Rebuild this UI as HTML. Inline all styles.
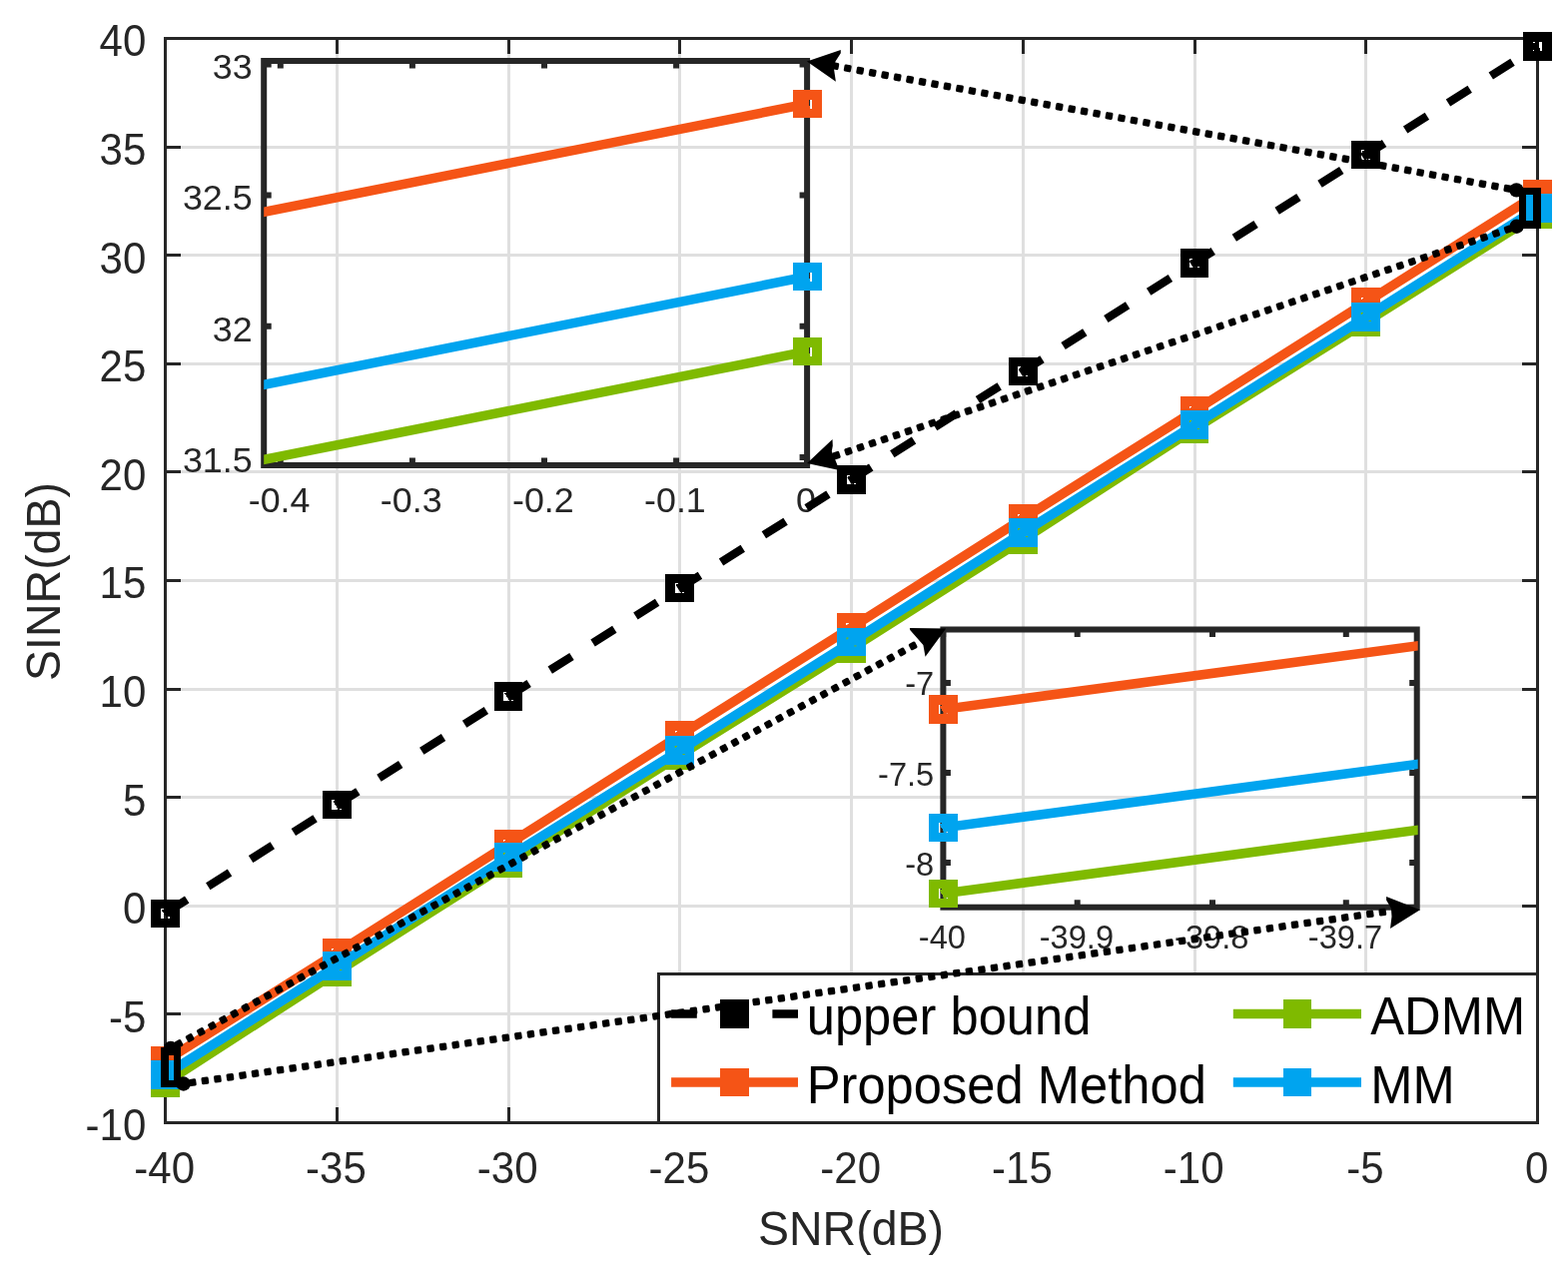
<!DOCTYPE html>
<html><head><meta charset="utf-8"><title>SINR vs SNR</title>
<style>html,body{margin:0;padding:0;background:#fff;overflow:hidden}svg{display:block}text{font-family:"Liberation Sans", Arial, Helvetica, sans-serif}</style>
</head><body>
<svg width="1570" height="1273" viewBox="0 0 1570 1273">
<rect width="1570" height="1273" fill="#fff"/>
<path d="M337.25 38.5V1124.5M509 38.5V1124.5M680.75 38.5V1124.5M852.5 38.5V1124.5M1024.25 38.5V1124.5M1196 38.5V1124.5M1367.75 38.5V1124.5M165.5 1015.9H1539.5M165.5 907.3H1539.5M165.5 798.7H1539.5M165.5 690.1H1539.5M165.5 581.5H1539.5M165.5 472.9H1539.5M165.5 364.3H1539.5M165.5 255.7H1539.5M165.5 147.1H1539.5" stroke="#dfdfdf" stroke-width="3" fill="none" shape-rendering="crispEdges"/>
<path d="M337.25 1124.5v-15.5M337.25 38.5v15.5M509 1124.5v-15.5M509 38.5v15.5M680.75 1124.5v-15.5M680.75 38.5v15.5M852.5 1124.5v-15.5M852.5 38.5v15.5M1024.25 1124.5v-15.5M1024.25 38.5v15.5M1196 1124.5v-15.5M1196 38.5v15.5M1367.75 1124.5v-15.5M1367.75 38.5v15.5M165.5 1015.9h15.5M1539.5 1015.9h-15.5M165.5 907.3h15.5M1539.5 907.3h-15.5M165.5 798.7h15.5M1539.5 798.7h-15.5M165.5 690.1h15.5M1539.5 690.1h-15.5M165.5 581.5h15.5M1539.5 581.5h-15.5M165.5 472.9h15.5M1539.5 472.9h-15.5M165.5 364.3h15.5M1539.5 364.3h-15.5M165.5 255.7h15.5M1539.5 255.7h-15.5M165.5 147.1h15.5M1539.5 147.1h-15.5" stroke="#262626" stroke-width="3" fill="none" shape-rendering="crispEdges"/>
<rect x="165.5" y="38.5" width="1374.0" height="1086.0" stroke="#262626" stroke-width="3" fill="none" shape-rendering="crispEdges"/>
<g font-size="42" fill="#262626"><text transform="translate(164.7 1185.3) scale(1 1.05)" text-anchor="middle">-40</text><text transform="translate(336.45 1185.3) scale(1 1.05)" text-anchor="middle">-35</text><text transform="translate(508.2 1185.3) scale(1 1.05)" text-anchor="middle">-30</text><text transform="translate(679.95 1185.3) scale(1 1.05)" text-anchor="middle">-25</text><text transform="translate(851.7 1185.3) scale(1 1.05)" text-anchor="middle">-20</text><text transform="translate(1023.45 1185.3) scale(1 1.05)" text-anchor="middle">-15</text><text transform="translate(1195.2 1185.3) scale(1 1.05)" text-anchor="middle">-10</text><text transform="translate(1366.95 1185.3) scale(1 1.05)" text-anchor="middle">-5</text><text transform="translate(1538.7 1185.3) scale(1 1.05)" text-anchor="middle">0</text><text transform="translate(146.3 1142.3) scale(1 1.05)" text-anchor="end">-10</text><text transform="translate(146.3 1033.7) scale(1 1.05)" text-anchor="end">-5</text><text transform="translate(146.3 925.1) scale(1 1.05)" text-anchor="end">0</text><text transform="translate(146.3 816.5) scale(1 1.05)" text-anchor="end">5</text><text transform="translate(146.3 707.9) scale(1 1.05)" text-anchor="end">10</text><text transform="translate(146.3 599.3) scale(1 1.05)" text-anchor="end">15</text><text transform="translate(146.3 490.7) scale(1 1.05)" text-anchor="end">20</text><text transform="translate(146.3 382.1) scale(1 1.05)" text-anchor="end">25</text><text transform="translate(146.3 273.5) scale(1 1.05)" text-anchor="end">30</text><text transform="translate(146.3 164.9) scale(1 1.05)" text-anchor="end">35</text><text transform="translate(146.3 56.3) scale(1 1.05)" text-anchor="end">40</text></g>
<text transform="translate(852 1246.8) scale(1 1.035)" font-size="46.5" fill="#262626" text-anchor="middle">SNR(dB)</text>
<text transform="translate(59.9 582.5) rotate(-90) scale(1 1.035)" font-size="46.5" fill="#262626" text-anchor="middle">SINR(dB)</text>
<g font-size="35.8" fill="#262626"><text transform="translate(279.6 512.6) scale(1 1.0)" text-anchor="middle">-0.4</text><text transform="translate(411.7 512.6) scale(1 1.0)" text-anchor="middle">-0.3</text><text transform="translate(543.8 512.6) scale(1 1.0)" text-anchor="middle">-0.2</text><text transform="translate(675.9 512.6) scale(1 1.0)" text-anchor="middle">-0.1</text><text transform="translate(806.9 512.6) scale(1 1.0)" text-anchor="middle">0</text><text transform="translate(252.6 79.2) scale(1 1.0)" text-anchor="end">33</text><text transform="translate(252.6 210.4) scale(1 1.0)" text-anchor="end">32.5</text><text transform="translate(252.6 341.6) scale(1 1.0)" text-anchor="end">32</text><text transform="translate(252.6 472.8) scale(1 1.0)" text-anchor="end">31.5</text></g>
<path d="M280.8 466v-7.5M280.8 61v7.5M412.9 466v-7.5M412.9 61v7.5M545 466v-7.5M545 61v7.5M677.1 466v-7.5M677.1 61v7.5M808.1 466v-7.5M808.1 61v7.5M264.2 64.4h7.5M808.1 64.4h-7.5M264.2 195.6h7.5M808.1 195.6h-7.5M264.2 326.8h7.5M808.1 326.8h-7.5M264.2 458h7.5M808.1 458h-7.5" stroke="#262626" stroke-width="6" fill="none"/>
<rect x="264.2" y="61" width="543.9" height="405" stroke="#262626" stroke-width="6" fill="none"/>
<g font-size="32.6" fill="#262626"><text transform="translate(943.4 950.2) scale(1 1.04)" text-anchor="middle">-40</text><text transform="translate(1077.9 950.2) scale(1 1.04)" text-anchor="middle">-39.9</text><text transform="translate(1213.2 950.2) scale(1 1.04)" text-anchor="middle">-39.8</text><text transform="translate(1347 950.2) scale(1 1.04)" text-anchor="middle">-39.7</text><text transform="translate(935.2 696.4) scale(1 1.04)" text-anchor="end">-7</text><text transform="translate(935.2 786.5) scale(1 1.04)" text-anchor="end">-7.5</text><text transform="translate(935.2 876.6) scale(1 1.04)" text-anchor="end">-8</text></g>
<path d="M944.2 908.7v-7.5M944.2 630.5v7.5M1078.7 908.7v-7.5M1078.7 630.5v7.5M1214 908.7v-7.5M1214 630.5v7.5M1347.8 908.7v-7.5M1347.8 630.5v7.5M944.4 683.9h7.5M1418.7 683.9h-7.5M944.4 774h7.5M1418.7 774h-7.5M944.4 864.1h7.5M1418.7 864.1h-7.5" stroke="#262626" stroke-width="6" fill="none"/>
<rect x="944.4" y="630.5" width="474.3" height="278.2" stroke="#262626" stroke-width="6" fill="none"/>
<polyline points="165.5,914.8 337.25,806 509,697.5 680.75,589 852.5,480.5 1024.25,372 1196,263.3 1367.75,155 1539.5,46.4" stroke="#000" stroke-width="8.3" fill="none" stroke-dasharray="25.7 24.95"/>
<path d="M151.2 900.5h28.6v28.6h-28.6zM160.7 910L163.7 910L163.7 911L161.9 911L161.9 912L166.5 918.6L166.5 919.6L160.7 919.6zM168.1 918.4L170.1 918.4L170.1 919.6L168.1 919.6z" fill="#000" fill-rule="evenodd" shape-rendering="crispEdges"/><path d="M322.95 791.7h28.6v28.6h-28.6zM332.45 801.2L335.45 801.2L335.45 802.2L333.65 802.2L333.65 803.2L338.25 809.8L338.25 810.8L332.45 810.8zM339.85 809.6L341.85 809.6L341.85 810.8L339.85 810.8z" fill="#000" fill-rule="evenodd" shape-rendering="crispEdges"/><path d="M494.7 683.2h28.6v28.6h-28.6zM504.2 692.7L507.2 692.7L507.2 693.7L505.4 693.7L505.4 694.7L510 701.3L510 702.3L504.2 702.3zM511.6 701.1L513.6 701.1L513.6 702.3L511.6 702.3z" fill="#000" fill-rule="evenodd" shape-rendering="crispEdges"/><path d="M666.45 574.7h28.6v28.6h-28.6zM675.95 584.2L678.95 584.2L678.95 585.2L677.15 585.2L677.15 586.2L681.75 592.8L681.75 593.8L675.95 593.8zM683.35 592.6L685.35 592.6L685.35 593.8L683.35 593.8z" fill="#000" fill-rule="evenodd" shape-rendering="crispEdges"/><path d="M838.2 466.2h28.6v28.6h-28.6zM847.7 475.7L850.7 475.7L850.7 476.7L848.9 476.7L848.9 477.7L853.5 484.3L853.5 485.3L847.7 485.3zM855.1 484.1L857.1 484.1L857.1 485.3L855.1 485.3z" fill="#000" fill-rule="evenodd" shape-rendering="crispEdges"/><path d="M1009.95 357.7h28.6v28.6h-28.6zM1019.45 367.2L1022.45 367.2L1022.45 368.2L1020.65 368.2L1020.65 369.2L1025.25 375.8L1025.25 376.8L1019.45 376.8zM1026.85 375.6L1028.85 375.6L1028.85 376.8L1026.85 376.8z" fill="#000" fill-rule="evenodd" shape-rendering="crispEdges"/><path d="M1181.7 249h28.6v28.6h-28.6zM1191.2 258.5L1194.2 258.5L1194.2 259.5L1192.4 259.5L1192.4 260.5L1197 267.1L1197 268.1L1191.2 268.1zM1198.6 266.9L1200.6 266.9L1200.6 268.1L1198.6 268.1z" fill="#000" fill-rule="evenodd" shape-rendering="crispEdges"/><path d="M1353.45 140.7h28.6v28.6h-28.6zM1362.95 150.2L1365.95 150.2L1365.95 151.2L1364.15 151.2L1364.15 152.2L1368.75 158.8L1368.75 159.8L1362.95 159.8zM1370.35 158.6L1372.35 158.6L1372.35 159.8L1370.35 159.8z" fill="#000" fill-rule="evenodd" shape-rendering="crispEdges"/><path d="M1525.2 32.1h28.6v28.6h-28.6zM1534.8 41.9L1537.1 41.9L1537.1 43L1534.8 43zM1534.8 49.8L1536.2 49.8L1536.2 51.1L1534.8 51.1zM1541.1 41.9L1544 41.9L1544 51L1541.8 51L1541.8 48L1541.1 48z" fill="#000" fill-rule="evenodd" shape-rendering="crispEdges"/>
<polyline points="165.5,1084.4 337.25,973.5 509,864.4 680.75,756.5 852.5,649.5 1024.25,540.4 1196,429.5 1367.75,322.4 1539.5,214.4" stroke="#7fba00" stroke-width="9.5" fill="none" stroke-linejoin="miter"/>
<path d="M151.2 1070.1h28.6v28.6h-28.6z" fill="#7fba00" fill-rule="evenodd" shape-rendering="crispEdges"/><path d="M322.95 959.2h28.6v28.6h-28.6z" fill="#7fba00" fill-rule="evenodd" shape-rendering="crispEdges"/><path d="M494.7 850.1h28.6v28.6h-28.6z" fill="#7fba00" fill-rule="evenodd" shape-rendering="crispEdges"/><path d="M666.45 742.2h28.6v28.6h-28.6z" fill="#7fba00" fill-rule="evenodd" shape-rendering="crispEdges"/><path d="M838.2 635.2h28.6v28.6h-28.6z" fill="#7fba00" fill-rule="evenodd" shape-rendering="crispEdges"/><path d="M1009.95 526.1h28.6v28.6h-28.6z" fill="#7fba00" fill-rule="evenodd" shape-rendering="crispEdges"/><path d="M1181.7 415.2h28.6v28.6h-28.6z" fill="#7fba00" fill-rule="evenodd" shape-rendering="crispEdges"/><path d="M1353.45 308.1h28.6v28.6h-28.6z" fill="#7fba00" fill-rule="evenodd" shape-rendering="crispEdges"/><path d="M1525.2 200.1h28.6v28.6h-28.6z" fill="#7fba00" fill-rule="evenodd" shape-rendering="crispEdges"/>
<polyline points="165.5,1062.5 337.25,954.5 509,845.6 680.75,736.5 852.5,628.5 1024.25,519.5 1196,411.6 1367.75,302.7 1539.5,194.4" stroke="#f55416" stroke-width="9.5" fill="none" stroke-linejoin="miter"/>
<path d="M151.2 1048.2h28.6v28.6h-28.6z" fill="#f55416" fill-rule="evenodd" shape-rendering="crispEdges"/><path d="M322.95 940.2h28.6v28.6h-28.6zM332.05 949.8L334.45 949.8L334.45 950.9L333.25 950.9L333.25 952.1L332.05 952.1z" fill="#f55416" fill-rule="evenodd" shape-rendering="crispEdges"/><path d="M494.7 831.3h28.6v28.6h-28.6zM503.8 840.9L506.2 840.9L506.2 842L505 842L505 843.2L503.8 843.2z" fill="#f55416" fill-rule="evenodd" shape-rendering="crispEdges"/><path d="M666.45 722.2h28.6v28.6h-28.6zM675.55 731.8L677.95 731.8L677.95 732.9L676.75 732.9L676.75 734.1L675.55 734.1z" fill="#f55416" fill-rule="evenodd" shape-rendering="crispEdges"/><path d="M838.2 614.2h28.6v28.6h-28.6zM847.3 623.8L849.7 623.8L849.7 624.9L848.5 624.9L848.5 626.1L847.3 626.1z" fill="#f55416" fill-rule="evenodd" shape-rendering="crispEdges"/><path d="M1009.95 505.2h28.6v28.6h-28.6zM1019.05 514.8L1021.45 514.8L1021.45 515.9L1020.25 515.9L1020.25 517.1L1019.05 517.1z" fill="#f55416" fill-rule="evenodd" shape-rendering="crispEdges"/><path d="M1181.7 397.3h28.6v28.6h-28.6zM1190.8 406.9L1193.2 406.9L1193.2 408L1192 408L1192 409.2L1190.8 409.2z" fill="#f55416" fill-rule="evenodd" shape-rendering="crispEdges"/><path d="M1353.45 288.4h28.6v28.6h-28.6zM1362.55 298L1364.95 298L1364.95 299.1L1363.75 299.1L1363.75 300.3L1362.55 300.3z" fill="#f55416" fill-rule="evenodd" shape-rendering="crispEdges"/><path d="M1525.2 180.1h28.6v28.6h-28.6z" fill="#f55416" fill-rule="evenodd" shape-rendering="crispEdges"/>
<polyline points="165.5,1076.5 337.25,967.5 509,858.5 680.75,751.5 852.5,643 1024.25,533.5 1196,425.5 1367.75,317.4 1539.5,208.7" stroke="#00a4ef" stroke-width="9.5" fill="none" stroke-linejoin="miter"/>
<path d="M151.2 1062.2h28.6v28.6h-28.6z" fill="#00a4ef" fill-rule="evenodd" shape-rendering="crispEdges"/><path d="M322.95 953.2h28.6v28.6h-28.6z" fill="#00a4ef" fill-rule="evenodd" shape-rendering="crispEdges"/><path d="M494.7 844.2h28.6v28.6h-28.6z" fill="#00a4ef" fill-rule="evenodd" shape-rendering="crispEdges"/><path d="M666.45 737.2h28.6v28.6h-28.6z" fill="#00a4ef" fill-rule="evenodd" shape-rendering="crispEdges"/><path d="M838.2 628.7h28.6v28.6h-28.6z" fill="#00a4ef" fill-rule="evenodd" shape-rendering="crispEdges"/><path d="M1009.95 519.2h28.6v28.6h-28.6z" fill="#00a4ef" fill-rule="evenodd" shape-rendering="crispEdges"/><path d="M1181.7 411.2h28.6v28.6h-28.6z" fill="#00a4ef" fill-rule="evenodd" shape-rendering="crispEdges"/><path d="M1353.45 303.1h28.6v28.6h-28.6z" fill="#00a4ef" fill-rule="evenodd" shape-rendering="crispEdges"/><path d="M1525.2 194.4h28.6v28.6h-28.6z" fill="#00a4ef" fill-rule="evenodd" shape-rendering="crispEdges"/>
<path d="M332.25 963.1h2v1h-1v1h-1z" fill="#7fba00"/><rect x="340.05" y="971" width="2.2" height="0.9" fill="#7fba00"/><path d="M504 854.1h2v1h-1v1h-1z" fill="#7fba00"/><rect x="511.8" y="862" width="2.2" height="0.9" fill="#7fba00"/><path d="M675.75 747.1h2v1h-1v1h-1z" fill="#7fba00"/><rect x="683.55" y="755" width="2.2" height="0.9" fill="#7fba00"/><path d="M847.5 638.6h2v1h-1v1h-1z" fill="#7fba00"/><rect x="855.3" y="646.5" width="2.2" height="0.9" fill="#7fba00"/><path d="M1019.25 529.1h2v1h-1v1h-1z" fill="#7fba00"/><rect x="1027.05" y="537" width="2.2" height="0.9" fill="#7fba00"/><path d="M1191 421.1h2v1h-1v1h-1z" fill="#7fba00"/><rect x="1198.8" y="429" width="2.2" height="0.9" fill="#7fba00"/><path d="M1362.75 313h2v1h-1v1h-1z" fill="#7fba00"/><rect x="1370.55" y="320.9" width="2.2" height="0.9" fill="#7fba00"/>
<clipPath id="c264"><rect x="264.2" y="41" width="544.9" height="445"/></clipPath>
<path d="M259.2 213.31L813.1 103.02" stroke="#f55416" stroke-width="9.5" clip-path="url(#c264)"/>
<path d="M259.2 386.31L813.1 276.02" stroke="#00a4ef" stroke-width="9.5" clip-path="url(#c264)"/>
<path d="M259.2 461.31L813.1 351.02" stroke="#7fba00" stroke-width="9.5" clip-path="url(#c264)"/>
<path d="M794.1 89.7h28.6v28.6h-28.6zM803.7 99.5L806 99.5L806 100.6L803.7 100.6zM803.7 107.4L805.1 107.4L805.1 108.7L803.7 108.7zM810 99.5L812.9 99.5L812.9 108.6L810.7 108.6L810.7 105.6L810 105.6z" fill="#f55416" fill-rule="evenodd" shape-rendering="crispEdges"/><path d="M794.1 337.7h28.6v28.6h-28.6zM803.7 347.5L806 347.5L806 348.6L803.7 348.6zM803.7 355.4L805.1 355.4L805.1 356.7L803.7 356.7zM810 347.5L812.9 347.5L812.9 356.6L810.7 356.6L810.7 353.6L810 353.6z" fill="#7fba00" fill-rule="evenodd" shape-rendering="crispEdges"/><path d="M794.1 262.7h28.6v28.6h-28.6zM803.7 272.5L806 272.5L806 273.6L803.7 273.6zM803.7 280.4L805.1 280.4L805.1 281.7L803.7 281.7zM810 272.5L812.9 272.5L812.9 281.6L810.7 281.6L810.7 278.6L810 278.6z" fill="#00a4ef" fill-rule="evenodd" shape-rendering="crispEdges"/>
<clipPath id="c944"><rect x="944.4" y="610.5" width="475.3" height="318.2"/></clipPath>
<path d="M939.4 711.17L1423.7 646.32" stroke="#f55416" stroke-width="9.5" clip-path="url(#c944)"/>
<path d="M939.4 829.67L1423.7 764.82" stroke="#00a4ef" stroke-width="9.5" clip-path="url(#c944)"/>
<path d="M939.4 895.67L1423.7 830.82" stroke="#7fba00" stroke-width="9.5" clip-path="url(#c944)"/>
<path d="M930.1 696.2h28.6v28.6h-28.6zM939.6 705.7L942.6 705.7L942.6 706.7L940.8 706.7L940.8 707.7L945.4 714.3L945.4 715.3L939.6 715.3zM947 714.1L949 714.1L949 715.3L947 715.3z" fill="#f55416" fill-rule="evenodd" shape-rendering="crispEdges"/><path d="M930.1 880.7h28.6v28.6h-28.6zM939.6 890.2L942.6 890.2L942.6 891.2L940.8 891.2L940.8 892.2L945.4 898.8L945.4 899.8L939.6 899.8zM947 898.6L949 898.6L949 899.8L947 899.8z" fill="#7fba00" fill-rule="evenodd" shape-rendering="crispEdges"/><path d="M930.1 814.7h28.6v28.6h-28.6zM939.6 824.2L942.6 824.2L942.6 825.2L940.8 825.2L940.8 826.2L945.4 832.8L945.4 833.8L939.6 833.8zM947 832.6L949 832.6L949 833.8L947 833.8z" fill="#00a4ef" fill-rule="evenodd" shape-rendering="crispEdges"/>
<rect x="659.5" y="975.5" width="880.0" height="149.0" fill="#fff" stroke="#262626" stroke-width="3" shape-rendering="crispEdges"/>
<path d="M672.1 1015.5H799" stroke="#000" stroke-width="8.3" stroke-dasharray="25.7 24.95"/>
<path d="M721.2 1001.2h28.6v28.6h-28.6z" fill="#000" fill-rule="evenodd" shape-rendering="crispEdges"/>
<path d="M672.1 1084H799" stroke="#f55416" stroke-width="9.5"/><path d="M721.2 1069.7h28.6v28.6h-28.6z" fill="#f55416" fill-rule="evenodd" shape-rendering="crispEdges"/>
<path d="M1234.8 1015.5H1363" stroke="#7fba00" stroke-width="9.5"/><path d="M1284.7 1001.2h28.6v28.6h-28.6z" fill="#7fba00" fill-rule="evenodd" shape-rendering="crispEdges"/>
<path d="M1234.8 1084H1363" stroke="#00a4ef" stroke-width="9.5"/><path d="M1284.7 1069.7h28.6v28.6h-28.6z" fill="#00a4ef" fill-rule="evenodd" shape-rendering="crispEdges"/>
<g font-size="50.7" fill="#000"><text transform="translate(807.7 1035.8) scale(1 1.055)">upper bound</text><text transform="translate(807.7 1104.6) scale(1 1.055)">Proposed Method</text><text transform="translate(1372.3 1035.8) scale(1 1.055)">ADMM</text><text transform="translate(1372.3 1104.6) scale(1 1.055)">MM</text></g>
<rect x="1524.6" y="191.5" width="14.6" height="33.6" fill="none" stroke="#000" stroke-width="7.4" shape-rendering="crispEdges"/>
<rect x="165" y="1053" width="12.75" height="32.4" fill="none" stroke="#000" stroke-width="7.4" shape-rendering="crispEdges"/>
<g fill="#000"><rect x="-3.65" y="-3.65" width="7.3" height="7.3" rx="1.6" transform="translate(1521.84 191.02) rotate(-169.68)"/><rect x="-3.65" y="-3.65" width="7.3" height="7.3" rx="1.6" transform="translate(1509.38 188.75) rotate(-169.68)"/><rect x="-3.65" y="-3.65" width="7.3" height="7.3" rx="1.6" transform="translate(1496.91 186.47) rotate(-169.68)"/><rect x="-3.65" y="-3.65" width="7.3" height="7.3" rx="1.6" transform="translate(1484.45 184.2) rotate(-169.68)"/><rect x="-3.65" y="-3.65" width="7.3" height="7.3" rx="1.6" transform="translate(1471.98 181.93) rotate(-169.68)"/><rect x="-3.65" y="-3.65" width="7.3" height="7.3" rx="1.6" transform="translate(1459.52 179.66) rotate(-169.68)"/><rect x="-3.65" y="-3.65" width="7.3" height="7.3" rx="1.6" transform="translate(1447.05 177.39) rotate(-169.68)"/><rect x="-3.65" y="-3.65" width="7.3" height="7.3" rx="1.6" transform="translate(1434.59 175.12) rotate(-169.68)"/><rect x="-3.65" y="-3.65" width="7.3" height="7.3" rx="1.6" transform="translate(1422.12 172.85) rotate(-169.68)"/><rect x="-3.65" y="-3.65" width="7.3" height="7.3" rx="1.6" transform="translate(1409.66 170.58) rotate(-169.68)"/><rect x="-3.65" y="-3.65" width="7.3" height="7.3" rx="1.6" transform="translate(1397.19 168.31) rotate(-169.68)"/><rect x="-3.65" y="-3.65" width="7.3" height="7.3" rx="1.6" transform="translate(1384.73 166.04) rotate(-169.68)"/><rect x="-3.65" y="-3.65" width="7.3" height="7.3" rx="1.6" transform="translate(1372.27 163.77) rotate(-169.68)"/><rect x="-3.65" y="-3.65" width="7.3" height="7.3" rx="1.6" transform="translate(1359.8 161.5) rotate(-169.68)"/><rect x="-3.65" y="-3.65" width="7.3" height="7.3" rx="1.6" transform="translate(1347.34 159.23) rotate(-169.68)"/><rect x="-3.65" y="-3.65" width="7.3" height="7.3" rx="1.6" transform="translate(1334.87 156.96) rotate(-169.68)"/><rect x="-3.65" y="-3.65" width="7.3" height="7.3" rx="1.6" transform="translate(1322.41 154.69) rotate(-169.68)"/><rect x="-3.65" y="-3.65" width="7.3" height="7.3" rx="1.6" transform="translate(1309.94 152.42) rotate(-169.68)"/><rect x="-3.65" y="-3.65" width="7.3" height="7.3" rx="1.6" transform="translate(1297.48 150.15) rotate(-169.68)"/><rect x="-3.65" y="-3.65" width="7.3" height="7.3" rx="1.6" transform="translate(1285.01 147.87) rotate(-169.68)"/><rect x="-3.65" y="-3.65" width="7.3" height="7.3" rx="1.6" transform="translate(1272.55 145.6) rotate(-169.68)"/><rect x="-3.65" y="-3.65" width="7.3" height="7.3" rx="1.6" transform="translate(1260.08 143.33) rotate(-169.68)"/><rect x="-3.65" y="-3.65" width="7.3" height="7.3" rx="1.6" transform="translate(1247.62 141.06) rotate(-169.68)"/><rect x="-3.65" y="-3.65" width="7.3" height="7.3" rx="1.6" transform="translate(1235.15 138.79) rotate(-169.68)"/><rect x="-3.65" y="-3.65" width="7.3" height="7.3" rx="1.6" transform="translate(1222.69 136.52) rotate(-169.68)"/><rect x="-3.65" y="-3.65" width="7.3" height="7.3" rx="1.6" transform="translate(1210.22 134.25) rotate(-169.68)"/><rect x="-3.65" y="-3.65" width="7.3" height="7.3" rx="1.6" transform="translate(1197.76 131.98) rotate(-169.68)"/><rect x="-3.65" y="-3.65" width="7.3" height="7.3" rx="1.6" transform="translate(1185.29 129.71) rotate(-169.68)"/><rect x="-3.65" y="-3.65" width="7.3" height="7.3" rx="1.6" transform="translate(1172.83 127.44) rotate(-169.68)"/><rect x="-3.65" y="-3.65" width="7.3" height="7.3" rx="1.6" transform="translate(1160.36 125.17) rotate(-169.68)"/><rect x="-3.65" y="-3.65" width="7.3" height="7.3" rx="1.6" transform="translate(1147.9 122.9) rotate(-169.68)"/><rect x="-3.65" y="-3.65" width="7.3" height="7.3" rx="1.6" transform="translate(1135.43 120.63) rotate(-169.68)"/><rect x="-3.65" y="-3.65" width="7.3" height="7.3" rx="1.6" transform="translate(1122.97 118.36) rotate(-169.68)"/><rect x="-3.65" y="-3.65" width="7.3" height="7.3" rx="1.6" transform="translate(1110.5 116.09) rotate(-169.68)"/><rect x="-3.65" y="-3.65" width="7.3" height="7.3" rx="1.6" transform="translate(1098.04 113.82) rotate(-169.68)"/><rect x="-3.65" y="-3.65" width="7.3" height="7.3" rx="1.6" transform="translate(1085.57 111.54) rotate(-169.68)"/><rect x="-3.65" y="-3.65" width="7.3" height="7.3" rx="1.6" transform="translate(1073.11 109.27) rotate(-169.68)"/><rect x="-3.65" y="-3.65" width="7.3" height="7.3" rx="1.6" transform="translate(1060.64 107) rotate(-169.68)"/><rect x="-3.65" y="-3.65" width="7.3" height="7.3" rx="1.6" transform="translate(1048.18 104.73) rotate(-169.68)"/><rect x="-3.65" y="-3.65" width="7.3" height="7.3" rx="1.6" transform="translate(1035.71 102.46) rotate(-169.68)"/><rect x="-3.65" y="-3.65" width="7.3" height="7.3" rx="1.6" transform="translate(1023.25 100.19) rotate(-169.68)"/><rect x="-3.65" y="-3.65" width="7.3" height="7.3" rx="1.6" transform="translate(1010.78 97.92) rotate(-169.68)"/><rect x="-3.65" y="-3.65" width="7.3" height="7.3" rx="1.6" transform="translate(998.32 95.65) rotate(-169.68)"/><rect x="-3.65" y="-3.65" width="7.3" height="7.3" rx="1.6" transform="translate(985.85 93.38) rotate(-169.68)"/><rect x="-3.65" y="-3.65" width="7.3" height="7.3" rx="1.6" transform="translate(973.39 91.11) rotate(-169.68)"/><rect x="-3.65" y="-3.65" width="7.3" height="7.3" rx="1.6" transform="translate(960.92 88.84) rotate(-169.68)"/><rect x="-3.65" y="-3.65" width="7.3" height="7.3" rx="1.6" transform="translate(948.46 86.57) rotate(-169.68)"/><rect x="-3.65" y="-3.65" width="7.3" height="7.3" rx="1.6" transform="translate(935.99 84.3) rotate(-169.68)"/><rect x="-3.65" y="-3.65" width="7.3" height="7.3" rx="1.6" transform="translate(923.53 82.03) rotate(-169.68)"/><rect x="-3.65" y="-3.65" width="7.3" height="7.3" rx="1.6" transform="translate(911.06 79.76) rotate(-169.68)"/><rect x="-3.65" y="-3.65" width="7.3" height="7.3" rx="1.6" transform="translate(898.6 77.49) rotate(-169.68)"/><rect x="-3.65" y="-3.65" width="7.3" height="7.3" rx="1.6" transform="translate(886.13 75.21) rotate(-169.68)"/><rect x="-3.65" y="-3.65" width="7.3" height="7.3" rx="1.6" transform="translate(873.67 72.94) rotate(-169.68)"/><rect x="-3.65" y="-3.65" width="7.3" height="7.3" rx="1.6" transform="translate(861.21 70.67) rotate(-169.68)"/><rect x="-3.65" y="-3.65" width="7.3" height="7.3" rx="1.6" transform="translate(848.74 68.4) rotate(-169.68)"/><rect x="-3.65" y="-3.65" width="7.3" height="7.3" rx="1.6" transform="translate(836.28 66.13) rotate(-169.68)"/></g>
<circle cx="1518.4" cy="190.39" r="7.2" fill="#000"/>
<path d="M807.9 61.4L841.8 50L841.8 53.3L836.5 61.5L835 69L836.9 81.8Z" fill="#000"/>
<g fill="#000"><rect x="-3.65" y="-3.65" width="7.3" height="7.3" rx="1.6" transform="translate(1521.94 225.66) rotate(161.39)"/><rect x="-3.65" y="-3.65" width="7.3" height="7.3" rx="1.6" transform="translate(1509.93 229.7) rotate(161.39)"/><rect x="-3.65" y="-3.65" width="7.3" height="7.3" rx="1.6" transform="translate(1497.93 233.75) rotate(161.39)"/><rect x="-3.65" y="-3.65" width="7.3" height="7.3" rx="1.6" transform="translate(1485.92 237.79) rotate(161.39)"/><rect x="-3.65" y="-3.65" width="7.3" height="7.3" rx="1.6" transform="translate(1473.91 241.83) rotate(161.39)"/><rect x="-3.65" y="-3.65" width="7.3" height="7.3" rx="1.6" transform="translate(1461.9 245.88) rotate(161.39)"/><rect x="-3.65" y="-3.65" width="7.3" height="7.3" rx="1.6" transform="translate(1449.89 249.92) rotate(161.39)"/><rect x="-3.65" y="-3.65" width="7.3" height="7.3" rx="1.6" transform="translate(1437.89 253.96) rotate(161.39)"/><rect x="-3.65" y="-3.65" width="7.3" height="7.3" rx="1.6" transform="translate(1425.88 258) rotate(161.39)"/><rect x="-3.65" y="-3.65" width="7.3" height="7.3" rx="1.6" transform="translate(1413.87 262.05) rotate(161.39)"/><rect x="-3.65" y="-3.65" width="7.3" height="7.3" rx="1.6" transform="translate(1401.86 266.09) rotate(161.39)"/><rect x="-3.65" y="-3.65" width="7.3" height="7.3" rx="1.6" transform="translate(1389.86 270.13) rotate(161.39)"/><rect x="-3.65" y="-3.65" width="7.3" height="7.3" rx="1.6" transform="translate(1377.85 274.18) rotate(161.39)"/><rect x="-3.65" y="-3.65" width="7.3" height="7.3" rx="1.6" transform="translate(1365.84 278.22) rotate(161.39)"/><rect x="-3.65" y="-3.65" width="7.3" height="7.3" rx="1.6" transform="translate(1353.83 282.26) rotate(161.39)"/><rect x="-3.65" y="-3.65" width="7.3" height="7.3" rx="1.6" transform="translate(1341.83 286.3) rotate(161.39)"/><rect x="-3.65" y="-3.65" width="7.3" height="7.3" rx="1.6" transform="translate(1329.82 290.35) rotate(161.39)"/><rect x="-3.65" y="-3.65" width="7.3" height="7.3" rx="1.6" transform="translate(1317.81 294.39) rotate(161.39)"/><rect x="-3.65" y="-3.65" width="7.3" height="7.3" rx="1.6" transform="translate(1305.8 298.43) rotate(161.39)"/><rect x="-3.65" y="-3.65" width="7.3" height="7.3" rx="1.6" transform="translate(1293.79 302.47) rotate(161.39)"/><rect x="-3.65" y="-3.65" width="7.3" height="7.3" rx="1.6" transform="translate(1281.79 306.52) rotate(161.39)"/><rect x="-3.65" y="-3.65" width="7.3" height="7.3" rx="1.6" transform="translate(1269.78 310.56) rotate(161.39)"/><rect x="-3.65" y="-3.65" width="7.3" height="7.3" rx="1.6" transform="translate(1257.77 314.6) rotate(161.39)"/><rect x="-3.65" y="-3.65" width="7.3" height="7.3" rx="1.6" transform="translate(1245.76 318.65) rotate(161.39)"/><rect x="-3.65" y="-3.65" width="7.3" height="7.3" rx="1.6" transform="translate(1233.76 322.69) rotate(161.39)"/><rect x="-3.65" y="-3.65" width="7.3" height="7.3" rx="1.6" transform="translate(1221.75 326.73) rotate(161.39)"/><rect x="-3.65" y="-3.65" width="7.3" height="7.3" rx="1.6" transform="translate(1209.74 330.77) rotate(161.39)"/><rect x="-3.65" y="-3.65" width="7.3" height="7.3" rx="1.6" transform="translate(1197.73 334.82) rotate(161.39)"/><rect x="-3.65" y="-3.65" width="7.3" height="7.3" rx="1.6" transform="translate(1185.73 338.86) rotate(161.39)"/><rect x="-3.65" y="-3.65" width="7.3" height="7.3" rx="1.6" transform="translate(1173.72 342.9) rotate(161.39)"/><rect x="-3.65" y="-3.65" width="7.3" height="7.3" rx="1.6" transform="translate(1161.71 346.95) rotate(161.39)"/><rect x="-3.65" y="-3.65" width="7.3" height="7.3" rx="1.6" transform="translate(1149.7 350.99) rotate(161.39)"/><rect x="-3.65" y="-3.65" width="7.3" height="7.3" rx="1.6" transform="translate(1137.69 355.03) rotate(161.39)"/><rect x="-3.65" y="-3.65" width="7.3" height="7.3" rx="1.6" transform="translate(1125.69 359.07) rotate(161.39)"/><rect x="-3.65" y="-3.65" width="7.3" height="7.3" rx="1.6" transform="translate(1113.68 363.12) rotate(161.39)"/><rect x="-3.65" y="-3.65" width="7.3" height="7.3" rx="1.6" transform="translate(1101.67 367.16) rotate(161.39)"/><rect x="-3.65" y="-3.65" width="7.3" height="7.3" rx="1.6" transform="translate(1089.66 371.2) rotate(161.39)"/><rect x="-3.65" y="-3.65" width="7.3" height="7.3" rx="1.6" transform="translate(1077.66 375.24) rotate(161.39)"/><rect x="-3.65" y="-3.65" width="7.3" height="7.3" rx="1.6" transform="translate(1065.65 379.29) rotate(161.39)"/><rect x="-3.65" y="-3.65" width="7.3" height="7.3" rx="1.6" transform="translate(1053.64 383.33) rotate(161.39)"/><rect x="-3.65" y="-3.65" width="7.3" height="7.3" rx="1.6" transform="translate(1041.63 387.37) rotate(161.39)"/><rect x="-3.65" y="-3.65" width="7.3" height="7.3" rx="1.6" transform="translate(1029.63 391.42) rotate(161.39)"/><rect x="-3.65" y="-3.65" width="7.3" height="7.3" rx="1.6" transform="translate(1017.62 395.46) rotate(161.39)"/><rect x="-3.65" y="-3.65" width="7.3" height="7.3" rx="1.6" transform="translate(1005.61 399.5) rotate(161.39)"/><rect x="-3.65" y="-3.65" width="7.3" height="7.3" rx="1.6" transform="translate(993.6 403.54) rotate(161.39)"/><rect x="-3.65" y="-3.65" width="7.3" height="7.3" rx="1.6" transform="translate(981.59 407.59) rotate(161.39)"/><rect x="-3.65" y="-3.65" width="7.3" height="7.3" rx="1.6" transform="translate(969.59 411.63) rotate(161.39)"/><rect x="-3.65" y="-3.65" width="7.3" height="7.3" rx="1.6" transform="translate(957.58 415.67) rotate(161.39)"/><rect x="-3.65" y="-3.65" width="7.3" height="7.3" rx="1.6" transform="translate(945.57 419.72) rotate(161.39)"/><rect x="-3.65" y="-3.65" width="7.3" height="7.3" rx="1.6" transform="translate(933.56 423.76) rotate(161.39)"/><rect x="-3.65" y="-3.65" width="7.3" height="7.3" rx="1.6" transform="translate(921.56 427.8) rotate(161.39)"/><rect x="-3.65" y="-3.65" width="7.3" height="7.3" rx="1.6" transform="translate(909.55 431.84) rotate(161.39)"/><rect x="-3.65" y="-3.65" width="7.3" height="7.3" rx="1.6" transform="translate(897.54 435.89) rotate(161.39)"/><rect x="-3.65" y="-3.65" width="7.3" height="7.3" rx="1.6" transform="translate(885.53 439.93) rotate(161.39)"/><rect x="-3.65" y="-3.65" width="7.3" height="7.3" rx="1.6" transform="translate(873.53 443.97) rotate(161.39)"/><rect x="-3.65" y="-3.65" width="7.3" height="7.3" rx="1.6" transform="translate(861.52 448.02) rotate(161.39)"/><rect x="-3.65" y="-3.65" width="7.3" height="7.3" rx="1.6" transform="translate(849.51 452.06) rotate(161.39)"/><rect x="-3.65" y="-3.65" width="7.3" height="7.3" rx="1.6" transform="translate(837.5 456.1) rotate(161.39)"/></g>
<circle cx="1518.62" cy="226.78" r="7.2" fill="#000"/>
<path d="M808.05 463.9L833.5 440L833.8 446.6L832.8 452L836.5 461L840.5 471Z" fill="#000"/>
<g fill="#000"><rect x="-3.65" y="-3.65" width="7.3" height="7.3" rx="1.6" transform="translate(167.87 1051.51) rotate(-28.47)"/><rect x="-3.65" y="-3.65" width="7.3" height="7.3" rx="1.6" transform="translate(179.01 1045.47) rotate(-28.47)"/><rect x="-3.65" y="-3.65" width="7.3" height="7.3" rx="1.6" transform="translate(190.15 1039.44) rotate(-28.47)"/><rect x="-3.65" y="-3.65" width="7.3" height="7.3" rx="1.6" transform="translate(201.29 1033.4) rotate(-28.47)"/><rect x="-3.65" y="-3.65" width="7.3" height="7.3" rx="1.6" transform="translate(212.43 1027.36) rotate(-28.47)"/><rect x="-3.65" y="-3.65" width="7.3" height="7.3" rx="1.6" transform="translate(223.56 1021.32) rotate(-28.47)"/><rect x="-3.65" y="-3.65" width="7.3" height="7.3" rx="1.6" transform="translate(234.7 1015.28) rotate(-28.47)"/><rect x="-3.65" y="-3.65" width="7.3" height="7.3" rx="1.6" transform="translate(245.84 1009.24) rotate(-28.47)"/><rect x="-3.65" y="-3.65" width="7.3" height="7.3" rx="1.6" transform="translate(256.98 1003.2) rotate(-28.47)"/><rect x="-3.65" y="-3.65" width="7.3" height="7.3" rx="1.6" transform="translate(268.12 997.16) rotate(-28.47)"/><rect x="-3.65" y="-3.65" width="7.3" height="7.3" rx="1.6" transform="translate(279.26 991.12) rotate(-28.47)"/><rect x="-3.65" y="-3.65" width="7.3" height="7.3" rx="1.6" transform="translate(290.39 985.09) rotate(-28.47)"/><rect x="-3.65" y="-3.65" width="7.3" height="7.3" rx="1.6" transform="translate(301.53 979.05) rotate(-28.47)"/><rect x="-3.65" y="-3.65" width="7.3" height="7.3" rx="1.6" transform="translate(312.67 973.01) rotate(-28.47)"/><rect x="-3.65" y="-3.65" width="7.3" height="7.3" rx="1.6" transform="translate(323.81 966.97) rotate(-28.47)"/><rect x="-3.65" y="-3.65" width="7.3" height="7.3" rx="1.6" transform="translate(334.95 960.93) rotate(-28.47)"/><rect x="-3.65" y="-3.65" width="7.3" height="7.3" rx="1.6" transform="translate(346.09 954.89) rotate(-28.47)"/><rect x="-3.65" y="-3.65" width="7.3" height="7.3" rx="1.6" transform="translate(357.22 948.85) rotate(-28.47)"/><rect x="-3.65" y="-3.65" width="7.3" height="7.3" rx="1.6" transform="translate(368.36 942.81) rotate(-28.47)"/><rect x="-3.65" y="-3.65" width="7.3" height="7.3" rx="1.6" transform="translate(379.5 936.77) rotate(-28.47)"/><rect x="-3.65" y="-3.65" width="7.3" height="7.3" rx="1.6" transform="translate(390.64 930.74) rotate(-28.47)"/><rect x="-3.65" y="-3.65" width="7.3" height="7.3" rx="1.6" transform="translate(401.78 924.7) rotate(-28.47)"/><rect x="-3.65" y="-3.65" width="7.3" height="7.3" rx="1.6" transform="translate(412.92 918.66) rotate(-28.47)"/><rect x="-3.65" y="-3.65" width="7.3" height="7.3" rx="1.6" transform="translate(424.05 912.62) rotate(-28.47)"/><rect x="-3.65" y="-3.65" width="7.3" height="7.3" rx="1.6" transform="translate(435.19 906.58) rotate(-28.47)"/><rect x="-3.65" y="-3.65" width="7.3" height="7.3" rx="1.6" transform="translate(446.33 900.54) rotate(-28.47)"/><rect x="-3.65" y="-3.65" width="7.3" height="7.3" rx="1.6" transform="translate(457.47 894.5) rotate(-28.47)"/><rect x="-3.65" y="-3.65" width="7.3" height="7.3" rx="1.6" transform="translate(468.61 888.46) rotate(-28.47)"/><rect x="-3.65" y="-3.65" width="7.3" height="7.3" rx="1.6" transform="translate(479.74 882.42) rotate(-28.47)"/><rect x="-3.65" y="-3.65" width="7.3" height="7.3" rx="1.6" transform="translate(490.88 876.39) rotate(-28.47)"/><rect x="-3.65" y="-3.65" width="7.3" height="7.3" rx="1.6" transform="translate(502.02 870.35) rotate(-28.47)"/><rect x="-3.65" y="-3.65" width="7.3" height="7.3" rx="1.6" transform="translate(513.16 864.31) rotate(-28.47)"/><rect x="-3.65" y="-3.65" width="7.3" height="7.3" rx="1.6" transform="translate(524.3 858.27) rotate(-28.47)"/><rect x="-3.65" y="-3.65" width="7.3" height="7.3" rx="1.6" transform="translate(535.44 852.23) rotate(-28.47)"/><rect x="-3.65" y="-3.65" width="7.3" height="7.3" rx="1.6" transform="translate(546.57 846.19) rotate(-28.47)"/><rect x="-3.65" y="-3.65" width="7.3" height="7.3" rx="1.6" transform="translate(557.71 840.15) rotate(-28.47)"/><rect x="-3.65" y="-3.65" width="7.3" height="7.3" rx="1.6" transform="translate(568.85 834.11) rotate(-28.47)"/><rect x="-3.65" y="-3.65" width="7.3" height="7.3" rx="1.6" transform="translate(579.99 828.07) rotate(-28.47)"/><rect x="-3.65" y="-3.65" width="7.3" height="7.3" rx="1.6" transform="translate(591.13 822.04) rotate(-28.47)"/><rect x="-3.65" y="-3.65" width="7.3" height="7.3" rx="1.6" transform="translate(602.27 816) rotate(-28.47)"/><rect x="-3.65" y="-3.65" width="7.3" height="7.3" rx="1.6" transform="translate(613.4 809.96) rotate(-28.47)"/><rect x="-3.65" y="-3.65" width="7.3" height="7.3" rx="1.6" transform="translate(624.54 803.92) rotate(-28.47)"/><rect x="-3.65" y="-3.65" width="7.3" height="7.3" rx="1.6" transform="translate(635.68 797.88) rotate(-28.47)"/><rect x="-3.65" y="-3.65" width="7.3" height="7.3" rx="1.6" transform="translate(646.82 791.84) rotate(-28.47)"/><rect x="-3.65" y="-3.65" width="7.3" height="7.3" rx="1.6" transform="translate(657.96 785.8) rotate(-28.47)"/><rect x="-3.65" y="-3.65" width="7.3" height="7.3" rx="1.6" transform="translate(669.1 779.76) rotate(-28.47)"/><rect x="-3.65" y="-3.65" width="7.3" height="7.3" rx="1.6" transform="translate(680.23 773.72) rotate(-28.47)"/><rect x="-3.65" y="-3.65" width="7.3" height="7.3" rx="1.6" transform="translate(691.37 767.69) rotate(-28.47)"/><rect x="-3.65" y="-3.65" width="7.3" height="7.3" rx="1.6" transform="translate(702.51 761.65) rotate(-28.47)"/><rect x="-3.65" y="-3.65" width="7.3" height="7.3" rx="1.6" transform="translate(713.65 755.61) rotate(-28.47)"/><rect x="-3.65" y="-3.65" width="7.3" height="7.3" rx="1.6" transform="translate(724.79 749.57) rotate(-28.47)"/><rect x="-3.65" y="-3.65" width="7.3" height="7.3" rx="1.6" transform="translate(735.92 743.53) rotate(-28.47)"/><rect x="-3.65" y="-3.65" width="7.3" height="7.3" rx="1.6" transform="translate(747.06 737.49) rotate(-28.47)"/><rect x="-3.65" y="-3.65" width="7.3" height="7.3" rx="1.6" transform="translate(758.2 731.45) rotate(-28.47)"/><rect x="-3.65" y="-3.65" width="7.3" height="7.3" rx="1.6" transform="translate(769.34 725.41) rotate(-28.47)"/><rect x="-3.65" y="-3.65" width="7.3" height="7.3" rx="1.6" transform="translate(780.48 719.37) rotate(-28.47)"/><rect x="-3.65" y="-3.65" width="7.3" height="7.3" rx="1.6" transform="translate(791.62 713.34) rotate(-28.47)"/><rect x="-3.65" y="-3.65" width="7.3" height="7.3" rx="1.6" transform="translate(802.75 707.3) rotate(-28.47)"/><rect x="-3.65" y="-3.65" width="7.3" height="7.3" rx="1.6" transform="translate(813.89 701.26) rotate(-28.47)"/><rect x="-3.65" y="-3.65" width="7.3" height="7.3" rx="1.6" transform="translate(825.03 695.22) rotate(-28.47)"/><rect x="-3.65" y="-3.65" width="7.3" height="7.3" rx="1.6" transform="translate(836.17 689.18) rotate(-28.47)"/><rect x="-3.65" y="-3.65" width="7.3" height="7.3" rx="1.6" transform="translate(847.31 683.14) rotate(-28.47)"/><rect x="-3.65" y="-3.65" width="7.3" height="7.3" rx="1.6" transform="translate(858.45 677.1) rotate(-28.47)"/><rect x="-3.65" y="-3.65" width="7.3" height="7.3" rx="1.6" transform="translate(869.58 671.06) rotate(-28.47)"/><rect x="-3.65" y="-3.65" width="7.3" height="7.3" rx="1.6" transform="translate(880.72 665.02) rotate(-28.47)"/><rect x="-3.65" y="-3.65" width="7.3" height="7.3" rx="1.6" transform="translate(891.86 658.99) rotate(-28.47)"/><rect x="-3.65" y="-3.65" width="7.3" height="7.3" rx="1.6" transform="translate(903 652.95) rotate(-28.47)"/><rect x="-3.65" y="-3.65" width="7.3" height="7.3" rx="1.6" transform="translate(914.14 646.91) rotate(-28.47)"/></g>
<circle cx="170.95" cy="1049.84" r="7.2" fill="#000"/>
<path d="M947.2 629.6L910.9 628.9L911.2 631L924.4 646L926.5 657.8Z" fill="#000"/>
<g fill="#000"><rect x="-3.65" y="-3.65" width="7.3" height="7.3" rx="1.6" transform="translate(180.27 1086.02) rotate(-8.15)"/><rect x="-3.65" y="-3.65" width="7.3" height="7.3" rx="1.6" transform="translate(192.81 1084.22) rotate(-8.15)"/><rect x="-3.65" y="-3.65" width="7.3" height="7.3" rx="1.6" transform="translate(205.36 1082.43) rotate(-8.15)"/><rect x="-3.65" y="-3.65" width="7.3" height="7.3" rx="1.6" transform="translate(217.9 1080.63) rotate(-8.15)"/><rect x="-3.65" y="-3.65" width="7.3" height="7.3" rx="1.6" transform="translate(230.44 1078.83) rotate(-8.15)"/><rect x="-3.65" y="-3.65" width="7.3" height="7.3" rx="1.6" transform="translate(242.98 1077.04) rotate(-8.15)"/><rect x="-3.65" y="-3.65" width="7.3" height="7.3" rx="1.6" transform="translate(255.53 1075.24) rotate(-8.15)"/><rect x="-3.65" y="-3.65" width="7.3" height="7.3" rx="1.6" transform="translate(268.07 1073.45) rotate(-8.15)"/><rect x="-3.65" y="-3.65" width="7.3" height="7.3" rx="1.6" transform="translate(280.61 1071.65) rotate(-8.15)"/><rect x="-3.65" y="-3.65" width="7.3" height="7.3" rx="1.6" transform="translate(293.15 1069.86) rotate(-8.15)"/><rect x="-3.65" y="-3.65" width="7.3" height="7.3" rx="1.6" transform="translate(305.69 1068.06) rotate(-8.15)"/><rect x="-3.65" y="-3.65" width="7.3" height="7.3" rx="1.6" transform="translate(318.24 1066.26) rotate(-8.15)"/><rect x="-3.65" y="-3.65" width="7.3" height="7.3" rx="1.6" transform="translate(330.78 1064.47) rotate(-8.15)"/><rect x="-3.65" y="-3.65" width="7.3" height="7.3" rx="1.6" transform="translate(343.32 1062.67) rotate(-8.15)"/><rect x="-3.65" y="-3.65" width="7.3" height="7.3" rx="1.6" transform="translate(355.86 1060.88) rotate(-8.15)"/><rect x="-3.65" y="-3.65" width="7.3" height="7.3" rx="1.6" transform="translate(368.4 1059.08) rotate(-8.15)"/><rect x="-3.65" y="-3.65" width="7.3" height="7.3" rx="1.6" transform="translate(380.95 1057.28) rotate(-8.15)"/><rect x="-3.65" y="-3.65" width="7.3" height="7.3" rx="1.6" transform="translate(393.49 1055.49) rotate(-8.15)"/><rect x="-3.65" y="-3.65" width="7.3" height="7.3" rx="1.6" transform="translate(406.03 1053.69) rotate(-8.15)"/><rect x="-3.65" y="-3.65" width="7.3" height="7.3" rx="1.6" transform="translate(418.57 1051.9) rotate(-8.15)"/><rect x="-3.65" y="-3.65" width="7.3" height="7.3" rx="1.6" transform="translate(431.11 1050.1) rotate(-8.15)"/><rect x="-3.65" y="-3.65" width="7.3" height="7.3" rx="1.6" transform="translate(443.66 1048.31) rotate(-8.15)"/><rect x="-3.65" y="-3.65" width="7.3" height="7.3" rx="1.6" transform="translate(456.2 1046.51) rotate(-8.15)"/><rect x="-3.65" y="-3.65" width="7.3" height="7.3" rx="1.6" transform="translate(468.74 1044.71) rotate(-8.15)"/><rect x="-3.65" y="-3.65" width="7.3" height="7.3" rx="1.6" transform="translate(481.28 1042.92) rotate(-8.15)"/><rect x="-3.65" y="-3.65" width="7.3" height="7.3" rx="1.6" transform="translate(493.83 1041.12) rotate(-8.15)"/><rect x="-3.65" y="-3.65" width="7.3" height="7.3" rx="1.6" transform="translate(506.37 1039.33) rotate(-8.15)"/><rect x="-3.65" y="-3.65" width="7.3" height="7.3" rx="1.6" transform="translate(518.91 1037.53) rotate(-8.15)"/><rect x="-3.65" y="-3.65" width="7.3" height="7.3" rx="1.6" transform="translate(531.45 1035.74) rotate(-8.15)"/><rect x="-3.65" y="-3.65" width="7.3" height="7.3" rx="1.6" transform="translate(543.99 1033.94) rotate(-8.15)"/><rect x="-3.65" y="-3.65" width="7.3" height="7.3" rx="1.6" transform="translate(556.54 1032.14) rotate(-8.15)"/><rect x="-3.65" y="-3.65" width="7.3" height="7.3" rx="1.6" transform="translate(569.08 1030.35) rotate(-8.15)"/><rect x="-3.65" y="-3.65" width="7.3" height="7.3" rx="1.6" transform="translate(581.62 1028.55) rotate(-8.15)"/><rect x="-3.65" y="-3.65" width="7.3" height="7.3" rx="1.6" transform="translate(594.16 1026.76) rotate(-8.15)"/><rect x="-3.65" y="-3.65" width="7.3" height="7.3" rx="1.6" transform="translate(606.7 1024.96) rotate(-8.15)"/><rect x="-3.65" y="-3.65" width="7.3" height="7.3" rx="1.6" transform="translate(619.25 1023.17) rotate(-8.15)"/><rect x="-3.65" y="-3.65" width="7.3" height="7.3" rx="1.6" transform="translate(631.79 1021.37) rotate(-8.15)"/><rect x="-3.65" y="-3.65" width="7.3" height="7.3" rx="1.6" transform="translate(644.33 1019.57) rotate(-8.15)"/><rect x="-3.65" y="-3.65" width="7.3" height="7.3" rx="1.6" transform="translate(656.87 1017.78) rotate(-8.15)"/><rect x="-3.65" y="-3.65" width="7.3" height="7.3" rx="1.6" transform="translate(669.41 1015.98) rotate(-8.15)"/><rect x="-3.65" y="-3.65" width="7.3" height="7.3" rx="1.6" transform="translate(681.96 1014.19) rotate(-8.15)"/><rect x="-3.65" y="-3.65" width="7.3" height="7.3" rx="1.6" transform="translate(694.5 1012.39) rotate(-8.15)"/><rect x="-3.65" y="-3.65" width="7.3" height="7.3" rx="1.6" transform="translate(707.04 1010.59) rotate(-8.15)"/><rect x="-3.65" y="-3.65" width="7.3" height="7.3" rx="1.6" transform="translate(719.58 1008.8) rotate(-8.15)"/><rect x="-3.65" y="-3.65" width="7.3" height="7.3" rx="1.6" transform="translate(732.12 1007) rotate(-8.15)"/><rect x="-3.65" y="-3.65" width="7.3" height="7.3" rx="1.6" transform="translate(744.67 1005.21) rotate(-8.15)"/><rect x="-3.65" y="-3.65" width="7.3" height="7.3" rx="1.6" transform="translate(757.21 1003.41) rotate(-8.15)"/><rect x="-3.65" y="-3.65" width="7.3" height="7.3" rx="1.6" transform="translate(769.75 1001.62) rotate(-8.15)"/><rect x="-3.65" y="-3.65" width="7.3" height="7.3" rx="1.6" transform="translate(782.29 999.82) rotate(-8.15)"/><rect x="-3.65" y="-3.65" width="7.3" height="7.3" rx="1.6" transform="translate(794.84 998.02) rotate(-8.15)"/><rect x="-3.65" y="-3.65" width="7.3" height="7.3" rx="1.6" transform="translate(807.38 996.23) rotate(-8.15)"/><rect x="-3.65" y="-3.65" width="7.3" height="7.3" rx="1.6" transform="translate(819.92 994.43) rotate(-8.15)"/><rect x="-3.65" y="-3.65" width="7.3" height="7.3" rx="1.6" transform="translate(832.46 992.64) rotate(-8.15)"/><rect x="-3.65" y="-3.65" width="7.3" height="7.3" rx="1.6" transform="translate(845 990.84) rotate(-8.15)"/><rect x="-3.65" y="-3.65" width="7.3" height="7.3" rx="1.6" transform="translate(857.55 989.05) rotate(-8.15)"/><rect x="-3.65" y="-3.65" width="7.3" height="7.3" rx="1.6" transform="translate(870.09 987.25) rotate(-8.15)"/><rect x="-3.65" y="-3.65" width="7.3" height="7.3" rx="1.6" transform="translate(882.63 985.45) rotate(-8.15)"/><rect x="-3.65" y="-3.65" width="7.3" height="7.3" rx="1.6" transform="translate(895.17 983.66) rotate(-8.15)"/><rect x="-3.65" y="-3.65" width="7.3" height="7.3" rx="1.6" transform="translate(907.71 981.86) rotate(-8.15)"/><rect x="-3.65" y="-3.65" width="7.3" height="7.3" rx="1.6" transform="translate(920.26 980.07) rotate(-8.15)"/><rect x="-3.65" y="-3.65" width="7.3" height="7.3" rx="1.6" transform="translate(932.8 978.27) rotate(-8.15)"/><rect x="-3.65" y="-3.65" width="7.3" height="7.3" rx="1.6" transform="translate(945.34 976.48) rotate(-8.15)"/><rect x="-3.65" y="-3.65" width="7.3" height="7.3" rx="1.6" transform="translate(957.88 974.68) rotate(-8.15)"/><rect x="-3.65" y="-3.65" width="7.3" height="7.3" rx="1.6" transform="translate(970.42 972.88) rotate(-8.15)"/><rect x="-3.65" y="-3.65" width="7.3" height="7.3" rx="1.6" transform="translate(982.97 971.09) rotate(-8.15)"/><rect x="-3.65" y="-3.65" width="7.3" height="7.3" rx="1.6" transform="translate(995.51 969.29) rotate(-8.15)"/><rect x="-3.65" y="-3.65" width="7.3" height="7.3" rx="1.6" transform="translate(1008.05 967.5) rotate(-8.15)"/><rect x="-3.65" y="-3.65" width="7.3" height="7.3" rx="1.6" transform="translate(1020.59 965.7) rotate(-8.15)"/><rect x="-3.65" y="-3.65" width="7.3" height="7.3" rx="1.6" transform="translate(1033.14 963.9) rotate(-8.15)"/><rect x="-3.65" y="-3.65" width="7.3" height="7.3" rx="1.6" transform="translate(1045.68 962.11) rotate(-8.15)"/><rect x="-3.65" y="-3.65" width="7.3" height="7.3" rx="1.6" transform="translate(1058.22 960.31) rotate(-8.15)"/><rect x="-3.65" y="-3.65" width="7.3" height="7.3" rx="1.6" transform="translate(1070.76 958.52) rotate(-8.15)"/><rect x="-3.65" y="-3.65" width="7.3" height="7.3" rx="1.6" transform="translate(1083.3 956.72) rotate(-8.15)"/><rect x="-3.65" y="-3.65" width="7.3" height="7.3" rx="1.6" transform="translate(1095.85 954.93) rotate(-8.15)"/><rect x="-3.65" y="-3.65" width="7.3" height="7.3" rx="1.6" transform="translate(1108.39 953.13) rotate(-8.15)"/><rect x="-3.65" y="-3.65" width="7.3" height="7.3" rx="1.6" transform="translate(1120.93 951.33) rotate(-8.15)"/><rect x="-3.65" y="-3.65" width="7.3" height="7.3" rx="1.6" transform="translate(1133.47 949.54) rotate(-8.15)"/><rect x="-3.65" y="-3.65" width="7.3" height="7.3" rx="1.6" transform="translate(1146.01 947.74) rotate(-8.15)"/><rect x="-3.65" y="-3.65" width="7.3" height="7.3" rx="1.6" transform="translate(1158.56 945.95) rotate(-8.15)"/><rect x="-3.65" y="-3.65" width="7.3" height="7.3" rx="1.6" transform="translate(1171.1 944.15) rotate(-8.15)"/><rect x="-3.65" y="-3.65" width="7.3" height="7.3" rx="1.6" transform="translate(1183.64 942.36) rotate(-8.15)"/><rect x="-3.65" y="-3.65" width="7.3" height="7.3" rx="1.6" transform="translate(1196.18 940.56) rotate(-8.15)"/><rect x="-3.65" y="-3.65" width="7.3" height="7.3" rx="1.6" transform="translate(1208.72 938.76) rotate(-8.15)"/><rect x="-3.65" y="-3.65" width="7.3" height="7.3" rx="1.6" transform="translate(1221.27 936.97) rotate(-8.15)"/><rect x="-3.65" y="-3.65" width="7.3" height="7.3" rx="1.6" transform="translate(1233.81 935.17) rotate(-8.15)"/><rect x="-3.65" y="-3.65" width="7.3" height="7.3" rx="1.6" transform="translate(1246.35 933.38) rotate(-8.15)"/><rect x="-3.65" y="-3.65" width="7.3" height="7.3" rx="1.6" transform="translate(1258.89 931.58) rotate(-8.15)"/><rect x="-3.65" y="-3.65" width="7.3" height="7.3" rx="1.6" transform="translate(1271.43 929.79) rotate(-8.15)"/><rect x="-3.65" y="-3.65" width="7.3" height="7.3" rx="1.6" transform="translate(1283.98 927.99) rotate(-8.15)"/><rect x="-3.65" y="-3.65" width="7.3" height="7.3" rx="1.6" transform="translate(1296.52 926.19) rotate(-8.15)"/><rect x="-3.65" y="-3.65" width="7.3" height="7.3" rx="1.6" transform="translate(1309.06 924.4) rotate(-8.15)"/><rect x="-3.65" y="-3.65" width="7.3" height="7.3" rx="1.6" transform="translate(1321.6 922.6) rotate(-8.15)"/><rect x="-3.65" y="-3.65" width="7.3" height="7.3" rx="1.6" transform="translate(1334.15 920.81) rotate(-8.15)"/><rect x="-3.65" y="-3.65" width="7.3" height="7.3" rx="1.6" transform="translate(1346.69 919.01) rotate(-8.15)"/><rect x="-3.65" y="-3.65" width="7.3" height="7.3" rx="1.6" transform="translate(1359.23 917.21) rotate(-8.15)"/><rect x="-3.65" y="-3.65" width="7.3" height="7.3" rx="1.6" transform="translate(1371.77 915.42) rotate(-8.15)"/><rect x="-3.65" y="-3.65" width="7.3" height="7.3" rx="1.6" transform="translate(1384.31 913.62) rotate(-8.15)"/></g>
<circle cx="183.74" cy="1085.52" r="7.2" fill="#000"/>
<path d="M1421.9 911.2L1388.1 898.1L1388.1 901.6L1392.9 909.8L1393.5 918L1392 930Z" fill="#000"/>
</svg>
</body></html>
